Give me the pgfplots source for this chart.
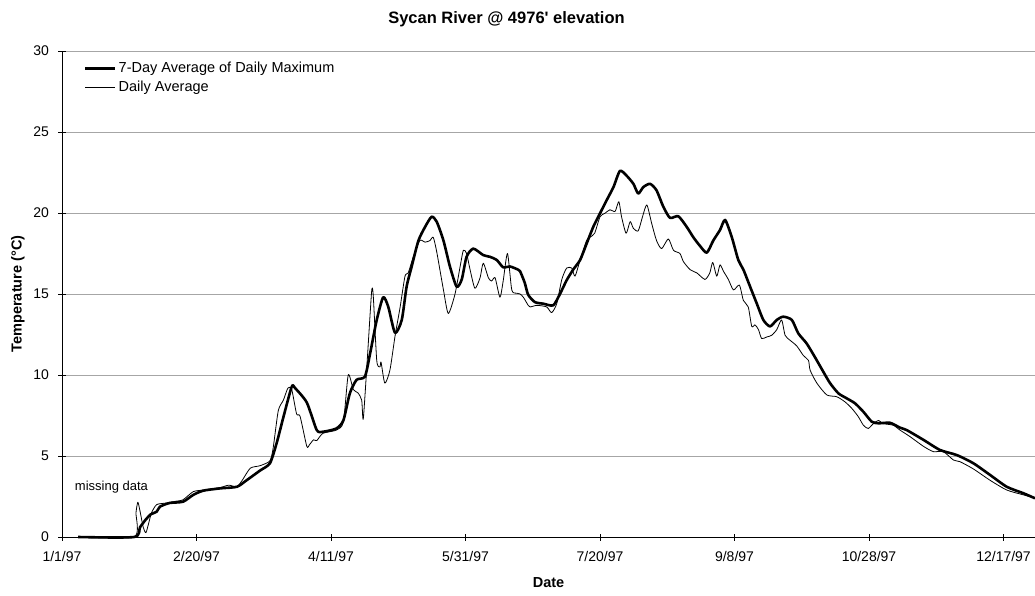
\documentclass[border=0pt]{standalone}
\usepackage{pgfplots}
\pgfplotsset{compat=1.18}
\usepackage{fontspec}
\setmainfont{Liberation Sans}

% days counted from 1/1/97
\pgfplotstableread{
day  t
6     0
26.8  0
29    0.6
31    1.05
33    1.4
35.2  1.56
36.4  1.87
40    2.1
45    2.18
48.8  2.6
52.5  2.86
58.7  3.0
65    3.1
68.6  3.5
73.6  4.1
77.3  4.55
79.8  5.8
82.3  7.4
85.4  9.28
86.6  9.2
91    8.3
94.7  6.6
97.1  6.5
102   6.7
104.6 7.2
107   8.87
109.5 9.7
112.6 9.9
114.5 11.3
117   13.4
119.4 14.8
121.3 14.2
123.8 12.6
126.3 13.4
128.1 15.45
130   16.7
132.5 18.3
135   19.15
137.4 19.77
139.3 19.46
141.8 18.3
144.2 16.7
146.7 15.45
148.6 15.9
150.4 17.3
152.9 17.8
156.6 17.4
159   17.3
161.6 17.1
164   16.65
166.5 16.7
169.6 16.5
170.3 16.4
172   15.7
173.3 14.95
175.8 14.5
179   14.4
182.6 14.3
185.1 15.0
187.6 15.85
190   16.5
192.6 17.1
195   18.1
197.5 19.15
200   19.98
202.5 20.8
205   21.6
207.4 22.6
209.9 22.3
212.4 21.8
214.2 21.2
216.1 21.6
218.6 21.8
221   21.4
223.5 20.4
226   19.7
229.1 19.8
232.2 19.15
234.7 18.5
237.2 17.96
239.7 17.55
242.1 18.3
244.6 18.95
246.5 19.57
249   18.5
251.4 17.1
253.3 16.5
255.8 15.45
258.3 14.4
260.7 13.4
263.2 13.0
265.7 13.4
268.1 13.6
271.3 13.4
273.7 12.57
276.8 11.95
279.9 11.1
283   10.2
285.5 9.5
288.6 8.87
291.7 8.56
294.8 8.25
297.9 7.73
301   7.12
303.5 7.02
307.8 7.05
311.5 6.75
314   6.6
320.2 6.0
326.4 5.37
332.6 5.06
338.8 4.55
345   3.83
351.2 3.1
357.4 2.7
361.7 2.39
}\maxseven

\pgfplotstableread{
day  t
6     0
26.8  0
27.5  1.5
28.2  2.15
29    1.6
30.2  0.6
31.2  0.27
32.3  0.9
33.3  1.5
35.2  2.0
38.9  2.1
42    2.2
45    2.3
48.8  2.8
52.5  2.9
58.7  3.05
62    3.2
65    3.1
67    3.5
70    4.25
73.6  4.4
77.3  4.7
78.5  5.5
80.4  7.8
82.3  8.45
84    9.2
85.4  9.1
87.2  7.6
88.5  7.45
91    5.6
92    5.7
93.5  6.0
94.7  5.95
97    6.4
102   6.6
104.6 7.1
106.4 10.0
108.3 9.1
110   8.9
111.4 8.45
112   7.3
113.5 11.0
115.1 15.15
115.7 14.9
117   10.9
118.2 10.5
118.6 10.8
120   9.5
121.9 10.3
123.8 12.4
125.7 14.2
127.5 16.1
128.7 16.3
130.6 17.3
133   18.3
135   18.2
136.8 18.3
138   18.5
139.3 17.6
141.8 15.25
143.6 13.8
146.1 15.0
148   16.7
149.2 17.7
150.4 17.5
151.7 16.5
153.5 15.35
155.4 16.0
156.6 16.9
158.5 16.0
159.7 15.8
161   16.0
162.8 14.8
164   15.8
165.6 17.5
167.2 15.25
169   15.05
170.3 15.0
171.5 14.8
173.3 14.3
174   14.2
176.6 14.3
180.2 14.2
182   13.85
183.9 14.4
185.8 15.9
187.6 16.6
189.5 16.6
190.7 16.1
192.6 17.1
195   18.3
196.2 18.5
198   18.75
200   19.77
201.8 19.98
203.7 20.2
205.6 20.1
207   20.7
208   19.77
209.7 18.75
211.2 19.47
212.4 19.05
214.2 18.9
215.8 19.77
217.4 20.5
219.2 19.36
221   18.3
222.9 17.8
225.4 18.4
227.3 17.7
229.7 17.5
231   17.0
233.5 16.5
236   16.3
239   15.9
240.8 16.3
241.9 16.95
243.4 16.1
244.6 16.8
245.9 16.4
247.7 15.9
249.6 15.25
251.8 15.55
253.3 14.6
255.1 14.2
256.4 13.0
257.6 13.1
258.9 12.8
260.1 12.25
262   12.35
263.8 12.45
265.7 12.8
267.5 13.4
268.8 12.45
270.6 12.15
273.1 11.8
275.6 11.2
277.5 10.9
278.1 10.3
280.6 9.5
284.3 8.77
288   8.66
291   8.35
293.6 7.94
296   7.43
297.9 6.9
299.7 6.7
301.6 7.0
303.5 7.2
305.3 7.0
309   6.9
311.5 6.6
315.2 6.2
320.2 5.6
323.9 5.27
327.6 5.27
331.4 4.75
333.8 4.65
338.8 4.2
345   3.5
351.2 2.9
357.4 2.6
361.7 2.4
}\dailyavg

\begin{document}
\begin{tikzpicture}
\path[use as bounding box] (-62pt,-58pt) rectangle (973pt,537pt);
\begin{axis}[
  at={(0pt,0pt)}, anchor=south west,
  scale only axis,
  width=973pt, height=486pt,
  xmin=0, xmax=361.7,
  ymin=0, ymax=30,
  axis lines*=left,
  axis line style={black, line width=0.8pt},
  xtick={0,50,...,350},
  xticklabels={1/1/97,2/20/97,4/11/97,5/31/97,7/20/97,9/8/97,10/28/97,12/17/97},
  ytick={0,5,...,30},
  tick align=center,
  major tick length=7pt,
  tick style={black, line width=0.8pt},
  ymajorgrids=true,
  grid style={gray!70, line width=0.7pt},
  tick label style={font=\fontsize{14}{16}\selectfont},
  /pgf/number format/assume math mode=true,
  xticklabel style={yshift=-7pt},
  yticklabel style={xshift=-6pt},
  title={\textbf{Sycan River @ 4976\textquotesingle\ elevation}},
  title style={font=\fontsize{16.5}{19}\selectfont, at={(axis description cs:0.5,1)}, anchor=south, yshift=15pt, xshift=-42pt},
  xlabel={\textbf{Date}},
  ylabel={\textbf{Temperature (°C)}},
  every axis x label/.style={at={(axis description cs:0.5,0)}, yshift=-46pt, anchor=center, font=\fontsize{14.5}{17}\selectfont},
  every axis y label/.style={at={(axis description cs:0,0.5)}, xshift=-44pt, rotate=90, anchor=center, font=\fontsize{14.5}{17}\selectfont},
  legend style={draw=none, fill=none, at={(0.0225,0.981)}, anchor=north west,
    font=\fontsize{14.5}{17}\selectfont, row sep=3pt, inner sep=0pt},
  legend cell align=left,
  legend image code/.code={\draw[#1] (0pt,0pt) -- (30pt,0pt);},
  clip=false,
]
\addplot[black, line width=2.6pt, line join=round, smooth, tension=0.4] table[x=day, y=t] {\maxseven};
\addlegendentry{7-Day Average of Daily Maximum}
\addplot[black, line width=0.8pt, line join=round, smooth, tension=0.4] table[x=day, y=t] {\dailyavg};
\addlegendentry{Daily Average}
\node[anchor=west, font=\fontsize{13}{15}\selectfont] at (axis cs:3.5,3.1) {missing data};
\end{axis}
\end{tikzpicture}
\end{document}
